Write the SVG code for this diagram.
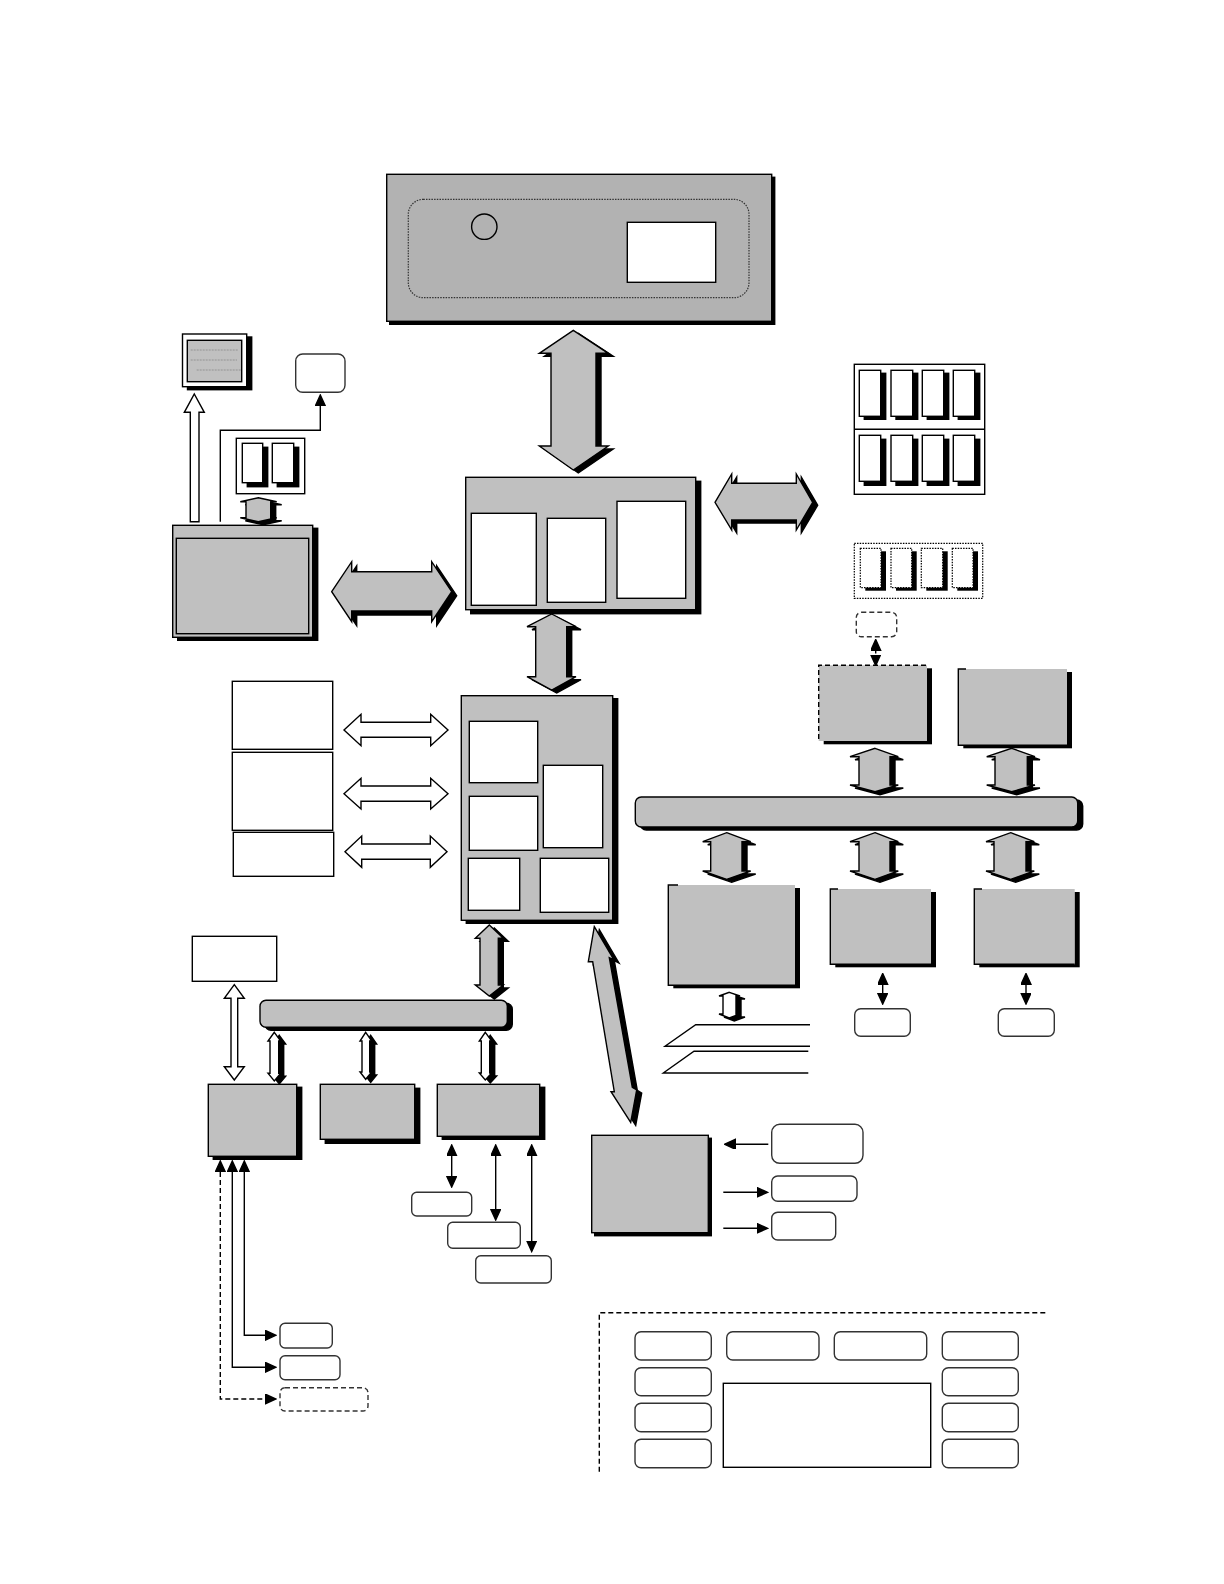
<svg xmlns="http://www.w3.org/2000/svg" width="1224" height="1584" viewBox="0 0 1224 1584">
<style>
rect,polygon,path,circle,line{stroke:#000;stroke-width:1.4}
.g{fill:#c0c0c0}
.d{fill:#b2b2b2}
.w{fill:#fff}
.n{fill:none}
.k{fill:#000;stroke:none}
.r{fill:#fff;stroke:#333}
.ns{stroke:none}
.dot{stroke-dasharray:1.5 1.2;stroke-width:1.2}
.dash{stroke-dasharray:5 3}
.s{filter:url(#sh)}
.s3{filter:url(#sh3)}
.s4{filter:url(#sh4)}
.a{marker-end:url(#h);fill:none}
.aa{marker-start:url(#h);marker-end:url(#h);fill:none}
</style>
<defs>
<filter id="sh" filterUnits="userSpaceOnUse" x="0" y="0" width="1224" height="1584"><feDropShadow dx="5" dy="3" stdDeviation="0" flood-color="#000"/></filter>
<filter id="sh3" filterUnits="userSpaceOnUse" x="0" y="0" width="1224" height="1584"><feDropShadow dx="3" dy="3" stdDeviation="0" flood-color="#000"/></filter>
<filter id="sh4" filterUnits="userSpaceOnUse" x="0" y="0" width="1224" height="1584"><feDropShadow dx="5" dy="4" stdDeviation="0" flood-color="#000"/></filter>
<marker id="h" markerUnits="userSpaceOnUse" markerWidth="12" markerHeight="11" refX="10" refY="5" orient="auto-start-reverse"><path d="M0,0L11,5L0,10z" fill="#000" stroke="none"/></marker>
</defs>

<g id="connectors">
<polygon class="w" points="194.3,394 204.3,412.3 199,412.3 199,521.7 190.3,521.7 190.3,412.3 184.3,412.3"/>
<path class="a" d="M220.3,521.7V430.3H320.3V396"/>
<polygon class="g s" points="258.3,497.7 276.7,501.7 270.7,501.7 270.7,517.7 276.7,517.7 258.3,521.7 240.3,517.7 246,517.7 246,501.7 240.3,501.7"/>
<polygon class="g s4" points="331.7,591.7 351.7,561.7 351.7,571.7 431.7,571.7 431.7,561.7 451.7,591.7 431.7,621.7 431.7,611 351.7,611 351.7,621.7"/>
<polygon class="g s" points="573.3,330.3 608.3,353.3 596,353.3 596,446 608.3,446 573.3,470 539.3,446 551,446 551,353.3 539.3,353.3"/>
<polygon class="g s" points="715,502.3 731.7,474 731.7,483.3 796.3,483.3 796.3,474 812.7,502.3 796.3,530 796.3,520 731.7,520 731.7,530"/>
<polygon class="g s" points="551.7,614 576,626.7 566.7,626.7 566.7,676.7 576,676.7 551.7,690 527,676.7 535.7,676.7 535.7,626.7 527,626.7"/>
<line class="aa dash" x1="875.7" y1="640.5" x2="875.7" y2="664.5"/>
<polygon class="g s" points="875,748.3 898.3,756.7 890,756.7 890,785 898.3,785 875,791.7 850,785 859,785 859,756.7 850,756.7"/>
<polygon class="g s" points="1011.7,748.3 1035,756.7 1027.3,756.7 1027.3,785 1035,785 1011.7,791.7 986.7,785 995,785 995,756.7 986.7,756.7"/>
<polygon class="g s" points="726.7,832.7 750.7,841.7 742,841.7 742,871 750.7,871 726.7,879.3 702.7,871 710.7,871 710.7,841.7 702.7,841.7"/>
<polygon class="g s" points="875,832.7 898.3,841.7 890,841.7 890,871 898.3,871 875,879.3 850,871 859,871 859,841.7 850,841.7"/>
<polygon class="g s" points="1010.7,832.7 1034.3,841.7 1026,841.7 1026,871 1034.3,871 1010.7,879.3 986,871 994,871 994,841.7 986,841.7"/>
<line class="aa" x1="882.7" y1="974.5" x2="882.7" y2="1003"/>
<line class="aa" x1="1026" y1="974.5" x2="1026" y2="1003"/>
<polygon class="w s" points="729.3,992.3 740,996 736,996 736,1014 740,1014 729.3,1018 719,1014 723,1014 723,996 719,996"/>
<path class="n" d="M810,1024.7H695.7L665,1046.3H810"/>
<path class="n" d="M808.3,1051.3H694L663.3,1073H808.3"/>
<polygon class="w" points="344,730 361,714.3 361,722.3 430.7,722.3 430.7,714.3 448,730 430.7,745.7 430.7,737.3 361,737.3 361,745.7"/>
<polygon class="w" points="344,793.7 361,778.3 361,786 430.7,786 430.7,778.3 448,793.7 430.7,809 430.7,801.3 361,801.3 361,809"/>
<polygon class="w" points="345,851.7 361.7,836 361.7,844 430.3,844 430.3,836 447,851.7 430.3,867.3 430.3,859.3 361.7,859.3 361.7,867.3"/>
<polygon class="w" points="234.3,984.7 244.3,998.3 237.7,998.3 237.7,1066.7 244.3,1066.7 234.3,1080 224.3,1066.7 231,1066.7 231,998.3 224.3,998.3"/>
<polygon class="g s" points="489.3,925 503.3,938.3 498.3,938.3 498.3,985 503.3,985 489.3,996 475.3,985 480,985 480,938.3 475.3,938.3"/>
<polygon class="w s" points="274.3,1032.3 280.7,1041 278.7,1041 278.7,1073.3 280.7,1073.3 274.3,1081 268,1073.3 270,1073.3 270,1041 268,1041"/>
<polygon class="w s" points="365.7,1032.3 371.7,1041 369.7,1041 369.7,1072 371.7,1072 365.7,1079.3 360,1072 362,1072 362,1041 360,1041"/>
<polygon class="w s" points="485.3,1032.3 491.7,1041 489.7,1041 489.7,1073 491.7,1073 485.3,1080 479.3,1073 481.3,1073 481.3,1041 479.3,1041"/>
<line class="aa" x1="451.7" y1="1146" x2="451.7" y2="1186"/>
<line class="aa" x1="495.7" y1="1146" x2="495.7" y2="1219"/>
<line class="aa" x1="531.7" y1="1146" x2="531.7" y2="1250.5"/>
<polygon class="g s" points="594.3,926.7 614,960 609.3,957.7 632.3,1087.3 636.7,1090 630.7,1122.3 611,1091.7 614.3,1091.7 592.7,961.7 588.3,961.7"/>
<line class="a" x1="768.3" y1="1144.3" x2="725.5" y2="1144.3"/>
<line class="a" x1="723.3" y1="1192.3" x2="766.5" y2="1192.3"/>
<line class="a" x1="723.3" y1="1228.3" x2="766.5" y2="1228.3"/>
<path class="a dash" d="M220.3,1172V1399H275"/>
<line x1="220.3" y1="1162" x2="220.3" y2="1172" class="a" style="marker-end:none;marker-start:url(#h)"/>
<path class="a" d="M232.3,1162V1367.3H275" style="marker-start:url(#h)"/>
<path class="a" d="M244.3,1162V1335.3H275" style="marker-start:url(#h)"/>
</g>

<g id="n-top"><rect class="d s3" x="386.7" y="174.3" width="385" height="147"/><rect class="n dot" x="408.3" y="199.3" width="340.7" height="98.4" rx="15" style="stroke:#333"/><circle class="n" cx="484.3" cy="226.7" r="12.7"/><rect class="w" x="627.3" y="222.3" width="88.4" height="60"/></g>

<g id="n-monitor"><rect class="w s" x="182.5" y="334" width="64.2" height="52.7"/><rect class="g" x="187.3" y="340.3" width="54.4" height="41.4"/><path d="M190.7,350H238M190.7,360H237M196.7,370H241" style="stroke:#888;stroke-width:.8;stroke-dasharray:2 1"/></g>
<g id="n-sm1"><rect class="r" x="295.7" y="354" width="49.3" height="38.3" rx="7"/></g>
<g id="n-mem2"><rect class="w" x="236.3" y="438.3" width="68.4" height="55.4"/><rect class="w s4" x="242.3" y="443.3" width="20.4" height="39.4"/><rect class="w s4" x="272.3" y="443.3" width="21.4" height="39.4"/></g>
<g id="n-left"><rect class="g s" x="172.7" y="525.3" width="140" height="112"/><rect class="g" x="176.3" y="538.3" width="132.4" height="95.4"/></g>

<g id="n-mid"><rect class="g s4" x="465.7" y="477.3" width="230" height="132.4"/><rect class="w" x="471.3" y="513.3" width="65" height="92"/><rect class="w" x="547.3" y="518.3" width="58.4" height="84"/><rect class="w" x="617" y="501.3" width="68.7" height="97"/></g>

<g id="n-mem8"><rect class="w" x="854.3" y="364.3" width="130.4" height="130"/><line x1="854.3" y1="429.3" x2="984.7" y2="429.3"/>
<rect class="w s" x="859.3" y="370.3" width="21.4" height="46"/><rect class="w s" x="891" y="370.3" width="21.7" height="46"/><rect class="w s" x="922.3" y="370.3" width="21.4" height="46"/><rect class="w s" x="953.3" y="370.3" width="21.4" height="46"/>
<rect class="w s4" x="859.3" y="435.3" width="21.4" height="46"/><rect class="w s4" x="891" y="435.3" width="21.7" height="46"/><rect class="w s4" x="922.3" y="435.3" width="21.4" height="46"/><rect class="w s4" x="953.3" y="435.3" width="21.4" height="46"/></g>

<g id="n-memdot"><rect class="w dot" x="854.3" y="543.3" width="128.4" height="55"/>
<rect class="k" x="865.3" y="551.3" width="20.7" height="39.4"/><rect class="w dot" x="860.3" y="548.3" width="20.7" height="39.4"/>
<rect class="k" x="896" y="551.3" width="20.7" height="39.4"/><rect class="w dot" x="891" y="548.3" width="20.7" height="39.4"/>
<rect class="k" x="926.3" y="551.3" width="21.4" height="39.4"/><rect class="w dot" x="921.3" y="548.3" width="21.4" height="39.4"/>
<rect class="k" x="957.3" y="551.3" width="20.7" height="39.4"/><rect class="w dot" x="952.3" y="548.3" width="20.7" height="39.4"/></g>
<g id="n-dashsm"><rect class="w dash" style="stroke:#333" x="856.3" y="612.3" width="40.4" height="24.4" rx="5"/></g>

<g id="n-d1"><rect class="k" x="823.7" y="668.3" width="108.3" height="76"/><rect class="g ns" x="818.7" y="665.3" width="108.3" height="75.7"/><path class="n dash" d="M926,665.3H818.7V741"/></g>
<g id="n-d2"><rect class="g ns s" x="958.3" y="669" width="108.7" height="76.3"/><path class="n" d="M966,669H958.3V745.3H1067"/></g>
<g id="n-bus"><rect class="g s" x="635.3" y="797" width="442.4" height="30" rx="6"/></g>
<g id="n-a"><rect class="g ns s" x="668.3" y="885" width="126.7" height="100.3"/><path class="n" d="M678,885H668.3V985.3H795"/></g>
<g id="n-b"><rect class="g ns s" x="830.3" y="889" width="100.7" height="75.3"/><path class="n" d="M838,889H830.3V964.3H931"/></g>
<g id="n-c"><rect class="g ns s" x="974.3" y="889" width="100.4" height="75.3"/><path class="n" d="M982,889H974.3V964.3H1074.7"/></g>
<g id="n-bs"><rect class="r" x="854.7" y="1008.7" width="55.6" height="27.6" rx="6"/></g>
<g id="n-cs"><rect class="r" x="998.3" y="1008.7" width="56" height="27.6" rx="6"/></g>

<g id="n-l1"><rect class="w" x="232.3" y="681.3" width="100.4" height="68"/></g>
<g id="n-l2"><rect class="w" x="232.3" y="752.3" width="100.4" height="78"/></g>
<g id="n-l3"><rect class="w" x="233.3" y="832.3" width="100.4" height="44"/></g>

<g id="n-chip"><rect class="g s" x="461.3" y="695.7" width="151.4" height="224.6"/><rect class="w" x="469.3" y="721.3" width="68.4" height="61.4"/><rect class="w" x="469.3" y="796.3" width="68.4" height="54"/><rect class="w" x="543.3" y="765.3" width="59.4" height="82.4"/><rect class="w" x="468.3" y="858.3" width="51.4" height="52"/><rect class="w" x="540.3" y="858.3" width="68.4" height="54"/></g>

<g id="n-wb"><rect class="w" x="192.3" y="936.3" width="84.4" height="45"/></g>
<g id="n-bus2"><rect class="g s" x="260" y="1000.3" width="247.3" height="27" rx="6"/></g>
<g id="n-x1"><rect class="g s" x="208.3" y="1084.3" width="88.4" height="72"/></g>
<g id="n-x2"><rect class="g s4" x="320.3" y="1084.3" width="94.4" height="55"/></g>
<g id="n-x3"><rect class="g s" x="437.3" y="1084.3" width="102.4" height="52"/></g>
<g id="n-x3a"><rect class="r" x="411.7" y="1192.3" width="60" height="23.7" rx="5"/></g>
<g id="n-x3b"><rect class="r" x="447.7" y="1222.3" width="72.6" height="26" rx="5"/></g>
<g id="n-x3c"><rect class="r" x="475.7" y="1255.7" width="75.6" height="27.3" rx="5"/></g>
<g id="n-y1"><rect class="r" x="280" y="1323.3" width="52.3" height="24.7" rx="5"/></g>
<g id="n-y2"><rect class="r" x="280" y="1355.7" width="60" height="24" rx="5"/></g>
<g id="n-y3"><rect class="r dash" x="280" y="1387.7" width="88" height="23.3" rx="5"/></g>

<g id="n-z"><rect class="g s3" x="591.7" y="1135.3" width="116.6" height="97.4"/></g>
<g id="n-z1"><rect class="r" x="771.7" y="1124.3" width="91.3" height="39" rx="8"/></g>
<g id="n-z2"><rect class="r" x="771.7" y="1176" width="85.3" height="25.3" rx="6"/></g>
<g id="n-z3"><rect class="r" x="771.7" y="1212.3" width="64" height="27.7" rx="6"/></g>

<g id="n-panel"><path class="n dash" d="M599.3,1471.7V1312.7H1046.7"/>
<rect class="r" x="635" y="1331.7" width="76.3" height="28.3" rx="6"/><rect class="r" x="635" y="1367.7" width="76.3" height="28" rx="6"/><rect class="r" x="635" y="1403.3" width="76.3" height="28.4" rx="6"/><rect class="r" x="635" y="1439.3" width="76.3" height="28.4" rx="6"/>
<rect class="r" x="726.7" y="1331.7" width="92.3" height="28.3" rx="6"/><rect class="r" x="834.3" y="1331.7" width="92.4" height="28.3" rx="6"/>
<rect class="r" x="942.3" y="1331.7" width="76" height="28.3" rx="6"/><rect class="r" x="942.3" y="1367.7" width="76" height="28" rx="6"/><rect class="r" x="942.3" y="1403.3" width="76" height="28.4" rx="6"/><rect class="r" x="942.3" y="1439.3" width="76" height="28.4" rx="6"/>
<rect class="w" x="723.3" y="1383.3" width="207.4" height="84"/></g>
</svg>
